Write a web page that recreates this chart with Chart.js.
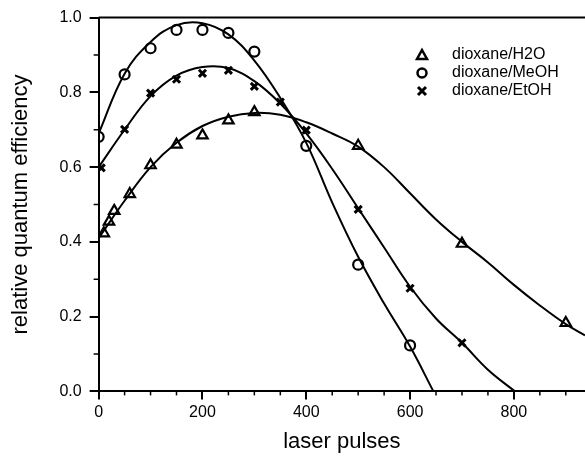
<!DOCTYPE html>
<html>
<head>
<meta charset="utf-8">
<script src="https://cdn.jsdelivr.net/npm/chart.js@4.4.1/dist/chart.umd.min.js"></script>
<style>
  html, body { margin: 0; padding: 0; background: #fff; }
  #wrap { width: 585px; height: 457px; }
</style>
</head>
<body>
<div id="wrap"><canvas id="qeChart" width="585" height="457"></canvas></div>
<script>
// measured points
const h2oX = [10, 20, 30, 60, 100, 150, 200, 250, 300, 500, 700, 900];
const h2oY = [0.423, 0.454, 0.483, 0.528, 0.605, 0.66, 0.685, 0.725, 0.747, 0.657, 0.395, 0.183];
const meohX = [0, 50, 100, 150, 200, 250, 300, 400, 500, 600];
const meohY = [0.681, 0.848, 0.918, 0.967, 0.967, 0.959, 0.909, 0.657, 0.339, 0.123];
const etohX = [5, 50, 100, 150, 200, 250, 300, 350, 400, 500, 600, 700];
const etohY = [0.598, 0.701, 0.798, 0.835, 0.851, 0.859, 0.816, 0.774, 0.699, 0.487, 0.276, 0.13];

// fitted curves
const h2oFitX = [0, 50, 100, 150, 200, 250, 300, 350, 400, 450, 500, 550, 600, 650, 700, 750, 800, 850, 900, 937];
const h2oFitY = [0.41, 0.51, 0.60, 0.665, 0.71, 0.735, 0.745, 0.74, 0.72, 0.69, 0.655, 0.60, 0.53, 0.46, 0.40, 0.345, 0.285, 0.23, 0.18, 0.15];
const meohFitX = [0, 50, 100, 150, 200, 250, 300, 350, 400, 450, 500, 550, 600, 645];
const meohFitY = [0.69, 0.85, 0.935, 0.98, 0.985, 0.955, 0.885, 0.785, 0.665, 0.505, 0.36, 0.235, 0.12, 0.0];
const etohFitX = [0, 50, 100, 150, 200, 250, 300, 350, 400, 450, 500, 550, 600, 650, 700, 750, 802];
const etohFitY = [0.60, 0.70, 0.79, 0.845, 0.868, 0.865, 0.83, 0.77, 0.69, 0.595, 0.49, 0.385, 0.28, 0.195, 0.13, 0.058, 0.0];

const seriesLabels = ['dioxane/H2O', 'dioxane/MeOH', 'dioxane/EtOH'];
const xTicks = [0, 200, 400, 600, 800];
const xMinorTicks = [50, 100, 150, 250, 300, 350, 450, 500, 550, 650, 700, 750, 850, 900];
const yTicks = [0, 0.2, 0.4, 0.6, 0.8, 1.0];
const yMinorTicks = [0.1, 0.3, 0.5, 0.7, 0.9];

function pts(xs, ys) {
  return xs.map((x, i) => ({ x: x, y: ys[i] }));
}

const markerStyles = ['triangle', 'circle', 'crossRot'];

// top frame line, minor ticks and the legend inside the plot
const extrasPlugin = {
  id: 'extras',
  afterDraw(chart) {
    const ctx = chart.ctx;
    const area = chart.chartArea;
    const xs = chart.scales.x;
    const ys = chart.scales.y;
    ctx.save();
    ctx.strokeStyle = '#000';
    ctx.lineWidth = 2;
    ctx.beginPath();
    ctx.moveTo(area.left, area.top);
    ctx.lineTo(area.right, area.top);
    ctx.stroke();

    ctx.lineWidth = 1.5;
    xMinorTicks.forEach(v => {
      const px = xs.getPixelForValue(v);
      ctx.beginPath();
      ctx.moveTo(px, area.bottom);
      ctx.lineTo(px, area.bottom + 4);
      ctx.stroke();
    });
    yMinorTicks.forEach(v => {
      const py = ys.getPixelForValue(v);
      ctx.beginPath();
      ctx.moveTo(area.left, py);
      ctx.lineTo(area.left - 5, py);
      ctx.stroke();
    });

    // legend
    const lx = 422, ly = 55, step = 18;
    ctx.font = '16px "Liberation Sans", Arial, sans-serif';
    ctx.textBaseline = 'middle';
    ctx.fillStyle = '#000';
    seriesLabels.forEach((label, i) => {
      const cy = ly + i * step;
      ctx.lineWidth = 2.5;
      ctx.beginPath();
      if (i === 0) {
        ctx.moveTo(lx, cy - 5);
        ctx.lineTo(lx + 5, cy + 4);
        ctx.lineTo(lx - 5, cy + 4);
        ctx.closePath();
        ctx.stroke();
      } else if (i === 1) {
        ctx.arc(lx, cy, 4.5, 0, Math.PI * 2);
        ctx.stroke();
      } else {
        ctx.lineWidth = 3;
        ctx.moveTo(lx - 4, cy - 4);
        ctx.lineTo(lx + 4, cy + 4);
        ctx.moveTo(lx + 4, cy - 4);
        ctx.lineTo(lx - 4, cy + 4);
        ctx.stroke();
      }
      ctx.fillText(label, lx + 30, cy);
    });
    ctx.restore();
  }
};

const ctx = document.getElementById('qeChart').getContext('2d');
new Chart(ctx, {
  type: 'scatter',
  data: {
    datasets: [
      { label: seriesLabels[0], data: pts(h2oX, h2oY), pointStyle: markerStyles[0], pointRadius: 6 },
      { label: seriesLabels[1], data: pts(meohX, meohY), pointStyle: markerStyles[1], pointRadius: 5 },
      { label: seriesLabels[2], data: pts(etohX, etohY), pointStyle: markerStyles[2], pointRadius: 5, borderWidth: 3 },
      { label: 'fit H2O', data: pts(h2oFitX, h2oFitY), showLine: true, pointRadius: 0, borderWidth: 2, tension: 0.4 },
      { label: 'fit MeOH', data: pts(meohFitX, meohFitY), showLine: true, pointRadius: 0, borderWidth: 2, tension: 0.4 },
      { label: 'fit EtOH', data: pts(etohFitX, etohFitY), showLine: true, pointRadius: 0, borderWidth: 2, tension: 0.4 }
    ].map(ds => Object.assign({
      borderColor: '#000',
      backgroundColor: 'rgba(0,0,0,0)',
      borderWidth: 2.2,
      fill: false
    }, ds))
  },
  options: {
    responsive: false,
    animation: false,
    events: [],
    layout: { autoPadding: false, padding: { left: 0, right: 0, top: 9, bottom: 2 } },
    plugins: {
      legend: { display: false },
      tooltip: { enabled: false }
    },
    scales: {
      x: {
        type: 'linear',
        min: 0,
        max: 937,
        afterBuildTicks: scale => { scale.ticks = xTicks.map(v => ({ value: v })); },
        ticks: {
          color: '#000',
          padding: 4,
          maxRotation: 0,
          font: { family: '"Liberation Sans", Arial, sans-serif', size: 16 }
        },
        grid: { drawOnChartArea: false, tickLength: 8, tickColor: '#000', lineWidth: 2 },
        border: { color: '#000', width: 2 },
        title: {
          display: true,
          text: 'laser pulses',
          color: '#000',
          padding: { top: 2, bottom: 0 },
          font: { family: '"Liberation Sans", Arial, sans-serif', size: 22 }
        }
      },
      y: {
        min: 0,
        max: 1,
        afterBuildTicks: scale => { scale.ticks = yTicks.map(v => ({ value: v })); },
        ticks: {
          color: '#000',
          padding: 8,
          callback: v => v.toFixed(1),
          font: { family: '"Liberation Sans", Arial, sans-serif', size: 16 }
        },
        grid: { drawOnChartArea: false, tickLength: 9, tickColor: '#000', lineWidth: 2 },
        border: { color: '#000', width: 2 },
        title: {
          display: true,
          text: 'relative quantum efficiency',
          color: '#000',
          padding: { top: 8, bottom: 17 },
          font: { family: '"Liberation Sans", Arial, sans-serif', size: 22 }
        }
      }
    }
  },
  plugins: [extrasPlugin]
});
</script>
</body>
</html>
